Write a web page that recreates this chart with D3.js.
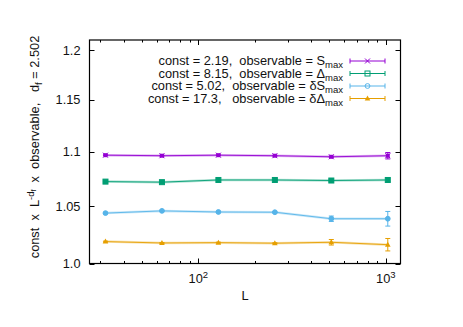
<!DOCTYPE html>
<html><head><meta charset="utf-8">
<script src="https://cdn.jsdelivr.net/npm/d3@7"></script>
<style>body{margin:0;background:#fff}svg{display:block}text{font-family:"Liberation Sans",Arial,sans-serif;fill:#111}</style>
</head><body><svg id="c" width="463" height="327"></svg>
<script>
const L = [32, 64, 128, 256, 512, 1024];
const sMax = [1.097, 1.0965, 1.097, 1.0965, 1.0955, 1.0965];
const sMaxErr = [0.0004, 0.0004, 0.0004, 0.0004, 0.0006, 0.003];
const deltaMax = [1.0725, 1.072, 1.074, 1.074, 1.0735, 1.074];
const deltaMaxErr = [0.0004, 0.0004, 0.0004, 0.0004, 0.0008, 0.0018];
const dSMax = [1.044, 1.046, 1.045, 1.0448, 1.039, 1.039];
const dSMaxErr = [0.0005, 0.0005, 0.0005, 0.0005, 0.0024, 0.0065];
const dDeltaMax = [1.0189, 1.0177, 1.018, 1.0175, 1.0183, 1.0162];
const dDeltaMaxErr = [0.0004, 0.0004, 0.0004, 0.0004, 0.0024, 0.0054];
const yTicks = [1.0, 1.05, 1.1, 1.15, 1.2];
const yTickLabels = ["1.0", "1.05", "1.1", "1.15", "1.2"];
const xTicks = [100, 1000];
const seriesLabels = [
  ["const = 2.19,  observable = S", "max"],
  ["const = 8.15,  observable = \u0394", "max"],
  ["const = 5.02,  observable = \u03b4S", "max"],
  ["const = 17.3,   observable = \u03b4\u0394", "max"]
];
const colors = ["#9400d3", "#009e73", "#56b4e9", "#e69f00"];
const symbols = ["star", "square", "circle", "triangle"];

const series = [
  {v: sMax, e: sMaxErr}, {v: deltaMax, e: deltaMaxErr},
  {v: dSMax, e: dSMaxErr}, {v: dDeltaMax, e: dDeltaMaxErr}
];

const FS = 12.8, FSS = 9.5;
const svg = d3.select("#c");
const pLeft = 89.5, pRight = 400.5, pTop = 40, pBottom = 263.5;
const x = d3.scaleLog().domain([26.3, 1197]).range([pLeft, pRight]);
const y = d3.scaleLog().domain([1.0, 1.2105]).range([pBottom, pTop]);

// frame
svg.append("rect").attr("x", pLeft).attr("y", pTop).attr("width", pRight - pLeft).attr("height", pBottom - pTop)
  .attr("fill", "none").attr("stroke", "#000").attr("stroke-width", 1.2);

// x ticks (major + minor) on bottom and top
const minor = [];
for (let d = 10; d <= 1000; d *= 10) for (let k = 2; k <= 9; k++) { const v = k * d; if (v >= 26.3 && v <= 1197) minor.push(v); }
const tk = svg.append("g").attr("stroke", "#000").attr("stroke-width", 1);
minor.forEach(v => {
  const px = Math.round(x(v)) + 0.5;
  tk.append("line").attr("x1", px).attr("x2", px).attr("y1", pBottom).attr("y2", pBottom - 2.5);
  tk.append("line").attr("x1", px).attr("x2", px).attr("y1", pTop).attr("y2", pTop + 2.5);
});
xTicks.forEach(v => {
  const px = Math.round(x(v)) + 0.5;
  tk.append("line").attr("x1", px).attr("x2", px).attr("y1", pBottom).attr("y2", pBottom - 5);
  tk.append("line").attr("x1", px).attr("x2", px).attr("y1", pTop).attr("y2", pTop + 5);
  const t = svg.append("text").attr("x", x(v)).attr("y", 283).attr("text-anchor", "middle").attr("font-size", FS);
  t.append("tspan").text("10");
  t.append("tspan").attr("dy", -5).attr("font-size", FSS).text(String(Math.round(Math.log10(v))));
});
yTicks.forEach((v, i) => {
  const py = Math.round(y(v)) + 0.5;
  tk.append("line").attr("x1", pLeft).attr("x2", pLeft + 5).attr("y1", py).attr("y2", py);
  tk.append("line").attr("x1", pRight).attr("x2", pRight - 5).attr("y1", py).attr("y2", py);
  svg.append("text").attr("x", 80.5).attr("y", y(v) + 4.5).attr("text-anchor", "end").attr("font-size", FS).text(yTickLabels[i]);
});

// axis labels
svg.append("text").attr("x", 245).attr("y", 300).attr("text-anchor", "middle").attr("font-size", FS).text("L");
const yl = svg.append("text").attr("transform", "translate(39,147) rotate(-90)").attr("text-anchor", "middle")
  .attr("font-size", FS).style("white-space", "pre");
yl.append("tspan").text("const  x  L");
yl.append("tspan").attr("dy", -5).attr("font-size", FSS).text("-d");
yl.append("tspan").attr("dy", 2).attr("font-size", 7).text("f");
yl.append("tspan").attr("dy", 3).text("  x  observable,   d");
yl.append("tspan").attr("dy", 3).attr("font-size", FSS).text("f");
yl.append("tspan").attr("dy", -3).text(" = 2.502");

function drawSymbol(g, type, cx, cy, color, legend) {
  if (type === "star") {
    const s = 2.5;
    g.append("path").attr("d", `M${cx-s},${cy-s}L${cx+s},${cy+s}M${cx-s},${cy+s}L${cx+s},${cy-s}`).attr("stroke", color).attr("stroke-width", 1);
    if (!legend) g.append("rect").attr("x", cx - 2).attr("y", cy - 2).attr("width", 4).attr("height", 4).attr("fill", color);
  } else if (type === "square") {
    g.append("rect").attr("x", cx - 2.5).attr("y", cy - 2.5).attr("width", 5).attr("height", 5)
      .attr("fill", legend ? "none" : color).attr("stroke", color).attr("stroke-width", 1);
  } else if (type === "circle") {
    g.append("circle").attr("cx", cx).attr("cy", cy).attr("r", 2.4)
      .attr("fill", legend ? "none" : color).attr("stroke", color).attr("stroke-width", 1);
  } else {
    g.append("path").attr("d", `M${cx},${cy-3}L${cx+2.8},${cy+2}L${cx-2.8},${cy+2}Z`).attr("fill", color);
  }
}

const line = d3.line().x(d => x(d[0])).y(d => y(d[1]));
series.forEach((s, i) => {
  const g = svg.append("g");
  const pts = L.map((l, j) => [l, s.v[j], s.e[j]]);
  g.append("path").attr("d", line(pts)).attr("fill", "none").attr("stroke", colors[i]).attr("stroke-width", 2.5).attr("stroke-opacity", 0.3);
  g.append("path").attr("d", line(pts)).attr("fill", "none").attr("stroke", colors[i]).attr("stroke-width", 0.9);
  pts.forEach(p => {
    const px = x(p[0]), y1 = y(p[1] - p[2]), y2 = y(p[1] + p[2]);
    g.append("path").attr("d", `M${px},${y1}L${px},${y2}M${px-2.5},${y1}L${px+2.5},${y1}M${px-2.5},${y2}L${px+2.5},${y2}`)
      .attr("stroke", colors[i]).attr("stroke-width", 1).attr("fill", "none");
    drawSymbol(g, symbols[i], px, y(p[1]), colors[i], false);
  });
});

// legend
const legY = [61, 73.5, 86, 98.5];
seriesLabels.forEach((lab, i) => {
  const t = svg.append("text").attr("x", 343).attr("y", legY[i] + 4).attr("text-anchor", "end")
    .attr("font-size", FS).style("white-space", "pre");
  t.append("tspan").text(lab[0]);
  t.append("tspan").attr("dy", 3).attr("font-size", FSS).text(lab[1]);
  const g = svg.append("g");
  const ly = legY[i];
  g.append("path").attr("d", `M350,${ly}L385,${ly}M350,${ly-2.5}L350,${ly+2.5}M385,${ly-2.5}L385,${ly+2.5}`)
    .attr("stroke", colors[i]).attr("stroke-width", 1).attr("fill", "none");
  drawSymbol(g, symbols[i], 367.5, ly, colors[i], true);
});
</script></body></html>
